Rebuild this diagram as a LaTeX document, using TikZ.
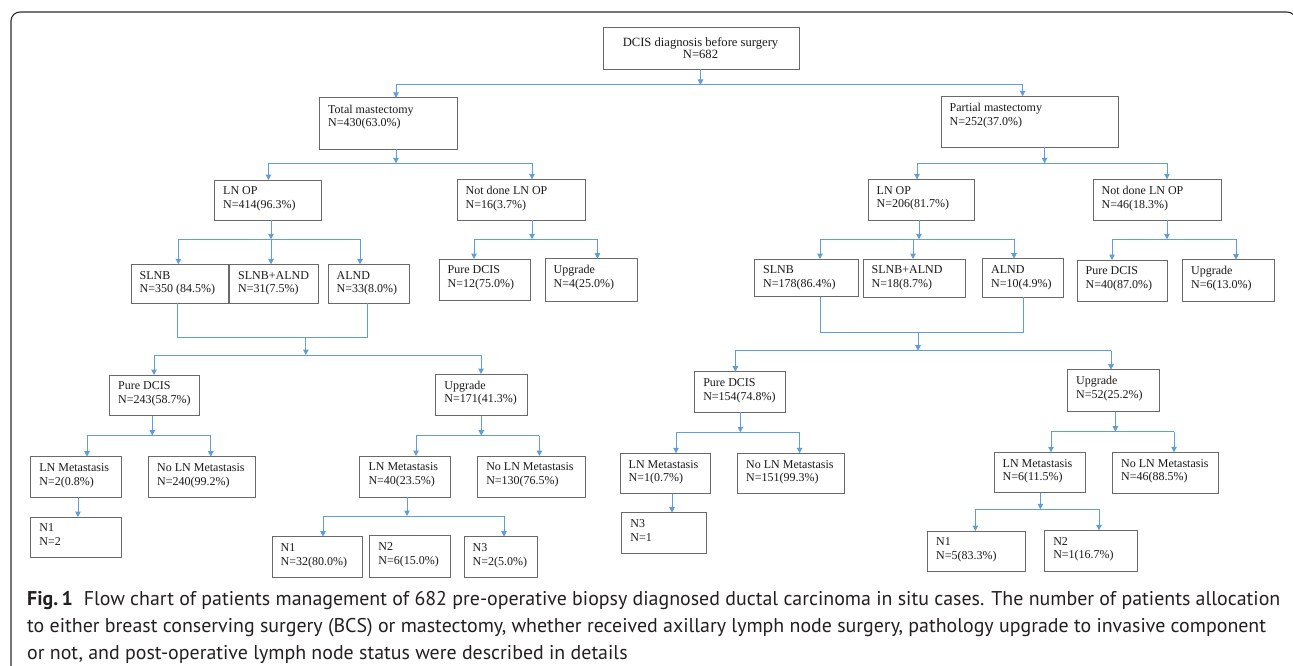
\documentclass[tikz,border=0pt]{standalone}
\usepackage{fontspec}
\setmainfont{Liberation Serif}
\newfontfamily\capfont{PT Sans}
\usetikzlibrary{arrows.meta}
\definecolor{conncol}{RGB}{96,158,215}
\definecolor{boxcol}{RGB}{105,105,105}
\definecolor{framecol}{RGB}{45,45,45}
\definecolor{txtcol}{RGB}{25,25,25}
\definecolor{capcol}{RGB}{35,31,32}
\tikzset{
  boxnode/.style={draw=boxcol, line width=1pt, rectangle, inner sep=0pt, outer sep=0pt},
  boxtext/.style={anchor=north west, inner sep=0pt, outer sep=0pt, align=left, text=txtcol,
    font=\fontsize{12}{13.6}\selectfont},
  conn/.style={draw=conncol, line width=1pt},
  arr/.style={conn, -{Triangle[length=5.5pt,width=5.5pt]}},
  captext/.style={anchor=base west, inner sep=0pt, text=capcol, font=\capfont\fontsize{19.9}{27}\selectfont},
  frameline/.style={draw=framecol, line width=1.1pt, rounded corners=9pt}
}
\newcommand{\bx}[6]{%
  \node[boxnode, minimum width={(#4-#2)*1pt}, minimum height={(#5-#3)*1pt}, anchor=north west] (#1) at (#2,#3) {};
  \node[boxtext] (#1t) at ([xshift=8.7pt,yshift=-6.8pt]#1.north west) {#6};
}
\begin{document}
\begin{tikzpicture}[x=1pt,y=-1pt]
\useasboundingbox (0,0) rectangle (1293,666);
\begin{scope}
  \clip (0,0) rectangle (1293,666);
  \draw[frameline] (11,12) rectangle (1296,700);
\end{scope}

% ---------- top ----------
\node[boxnode, minimum width=196pt, minimum height=41.8pt, anchor=north west] (dcis) at (603,27.5) {};
\node[boxtext, anchor=north, align=center, font=\fontsize{12.6}{12}\selectfont] (dcist) at (700.5,37.5) {DCIS diagnosis before surgery\\N=682};

\bx{tm}{319.5}{98}{457}{149.3}{Total mastectomy\\N=430(63.0\%)}
\bx{pm}{941}{96.3}{1118.4}{147.3}{Partial mastectomy\\N=252(37.0\%)}

% ---------- level 2 ----------
\bx{lnopL}{214.5}{180}{321.6}{220.3}{LN OP\\N=414(96.3\%)}
\bx{ndL}{457}{179.3}{585}{220.3}{Not done LN OP\\N=16(3.7\%)}
\bx{lnopR}{868}{179.3}{974}{220.3}{LN OP\\N=206(81.7\%)}
\bx{ndR}{1093}{179.3}{1221}{220.3}{Not done LN OP\\N=46(18.3\%)}

% ---------- level 3 ----------
\bx{slnbL}{131}{264.3}{228}{303}{SLNB\\N=350 (84.5\%)}
\bx{saL}{229.5}{264.3}{318}{303}{SLNB+ALND\\N=31(7.5\%)}
\bx{alndL}{328}{264.3}{409}{303}{ALND\\N=33(8.0\%)}
\bx{pdndL}{439}{259}{530}{300}{Pure DCIS\\N=12(75.0\%)}
\bx{upndL}{545}{258.7}{637}{301}{Upgrade\\N=4(25.0\%)}

\bx{slnbR}{754.5}{259}{858}{296.7}{SLNB\\N=178(86.4\%)}
\bx{saR}{863}{259}{965}{297}{SLNB+ALND\\N=18(8.7\%)}
\bx{alndR}{982.5}{258.7}{1063}{297}{ALND\\N=10(4.9\%)}
\bx{pdndR}{1077}{260}{1167.5}{301}{Pure DCIS\\N=40(87.0\%)}
\bx{upndR}{1182.5}{259.7}{1274.6}{301.3}{Upgrade\\N=6(13.0\%)}

% ---------- level 4 ----------
\bx{pdL}{109.5}{375}{199.6}{415.7}{Pure DCIS\\N=243(58.7\%)}
\bx{upL}{435.7}{374}{527}{415.7}{Upgrade\\N=171(41.3\%)}
\bx{pdR}{694.6}{371.7}{785.4}{412.3}{Pure DCIS\\N=154(74.8\%)}
\bx{upR}{1067.5}{369.7}{1159.6}{411.7}{Upgrade\\N=52(25.2\%)}

% ---------- level 5 ----------
\bx{lmL1}{30.7}{456.7}{121.6}{497.3}{LN Metastasis\\N=2(0.8\%)}
\bx{nlmL1}{148.5}{456.7}{255.6}{497.3}{No LN Metastasis\\N=240(99.2\%)}
\bx{lmL2}{359.8}{456}{450.6}{497}{LN Metastasis\\N=40(23.5\%)}
\bx{nlmL2}{477.6}{456}{585}{497}{No LN Metastasis\\N=130(76.5\%)}
\bx{lmR1}{620}{453.3}{710.7}{493.5}{LN Metastasis\\N=1(0.7\%)}
\bx{nlmR1}{737.5}{453.3}{844}{493.7}{No LN Metastasis\\N=151(99.3\%)}
\bx{lmR2}{994}{452.3}{1085.4}{492.7}{LN Metastasis\\N=6(11.5\%)}
\bx{nlmR2}{1112.5}{452.3}{1218.7}{493}{No LN Metastasis\\N=46(88.5\%)}

% ---------- level 6 ----------
\bx{n1L}{30.7}{517}{121.6}{557.7}{N1\\N=2}
\bx{n1L2}{272}{536.7}{362}{577.3}{N1\\N=32(80.0\%)}
\bx{n2L2}{369.7}{535.7}{450.6}{577}{N2\\N=6(15.0\%)}
\bx{n3L2}{464}{536.7}{537.8}{577}{N3\\N=2(5.0\%)}
\bx{n3R}{621.7}{512.7}{706}{553.3}{N3\\N=1}
\bx{n1R}{927.5}{531}{1025.4}{571.7}{N1\\N=5(83.3\%)}
\bx{n2R}{1044.6}{530.3}{1137}{571.7}{N2\\N=1(16.7\%)}

% ---------- connectors ----------
% DCIS split
\coordinate (j0) at (700.5,85);
\coordinate (j0l) at (396,85);
\coordinate (j0r) at (1022.6,85);
\draw[arr] (dcis.south -| j0) -- (j0);
\draw[conn] (j0l) -- (j0r);
\draw[arr] (j0l) -- (tm.north -| j0l);
\draw[arr] (j0r) -- (pm.north -| j0r);

% total mastectomy split
\coordinate (j1) at (396,163.3);
\coordinate (j1l) at (268.5,163.3);
\coordinate (j1r) at (532,163.3);
\draw[arr] (tm.south -| j1) -- (j1);
\draw[conn] (j1l) -- (j1r);
\draw[arr] (j1l) -- (lnopL.north -| j1l);
\draw[arr] (j1r) -- (ndL.north -| j1r);

% partial mastectomy split
\coordinate (j2) at (1044.6,163.3);
\coordinate (j2l) at (917,163.3);
\coordinate (j2r) at (1167,163.3);
\draw[arr] (pm.south -| j2) -- (j2);
\draw[conn] (j2l) -- (j2r);
\draw[arr] (j2l) -- (lnopR.north -| j2l);
\draw[arr] (j2r) -- (ndR.north -| j2r);

% LN OP left split
\coordinate (j3) at (271,239.3);
\coordinate (j3l) at (178.4,239.3);
\coordinate (j3r) at (360,239.3);
\draw[arr] (lnopL.south -| j3) -- (j3);
\draw[conn] (j3l) -- (j3r);
\draw[arr] (j3l) -- (slnbL.north -| j3l);
\draw[arr] (j3) -- (saL.north -| j3);
\draw[arr] (j3r) -- (alndL.north -| j3r);

% not done left split
\coordinate (j4) at (532,239.3);
\coordinate (j4l) at (474,239.3);
\coordinate (j4r) at (597.5,239.3);
\draw[arr] (ndL.south -| j4) -- (j4);
\draw[conn] (j4l) -- (j4r);
\draw[arr] (j4l) -- (pdndL.north -| j4l);
\draw[arr] (j4r) -- (upndL.north -| j4r);

% LN OP right split
\coordinate (j5) at (919,239.3);
\coordinate (j5l) at (820,239.3);
\coordinate (j5m) at (913,239.3);
\coordinate (j5r) at (1014,239.3);
\draw[arr] (lnopR.south -| j5) -- (j5);
\draw[conn] (j5l) -- (j5r);
\draw[arr] (j5l) -- (slnbR.north -| j5l);
\draw[arr] (j5m) -- (saR.north -| j5m);
\draw[arr] (j5r) -- (alndR.north -| j5r);

% not done right split
\coordinate (j6) at (1167,239.3);
\coordinate (j6l) at (1112,239.3);
\coordinate (j6r) at (1236,239.3);
\draw[arr] (ndR.south -| j6) -- (j6);
\draw[conn] (j6l) -- (j6r);
\draw[arr] (j6l) -- (pdndR.north -| j6l);
\draw[arr] (j6r) -- (upndR.north -| j6r);

% merge left
\coordinate (m1l) at (177.6,337.7);
\coordinate (m1r) at (367.6,337.7);
\coordinate (m1) at (305.8,337.7);
\draw[conn] (slnbL.south -| m1l) -- (m1l) -- (m1r) -- (alndL.south -| m1r);
\coordinate (j7) at (305.8,355);
\coordinate (j7l) at (154,355);
\coordinate (j7r) at (481,355);
\draw[arr] (m1) -- (j7);
\draw[conn] (j7l) -- (j7r);
\draw[arr] (j7l) -- (pdL.north -| j7l);
\draw[arr] (j7r) -- (upL.north -| j7r);

% merge right
\coordinate (m2l) at (820,332.3);
\coordinate (m2r) at (1023.7,332.3);
\coordinate (m2) at (918,332.3);
\draw[conn] (slnbR.south -| m2l) -- (m2l) -- (m2r) -- (alndR.south -| m2r);
\coordinate (j8) at (918,350.7);
\coordinate (j8l) at (735.4,350.7);
\coordinate (j8r) at (1111,350.7);
\draw[arr] (m2) -- (j8);
\draw[conn] (j8l) -- (j8r);
\draw[arr] (j8l) -- (pdR.north -| j8l);
\draw[arr] (j8r) -- (upR.north -| j8r);

% pure DCIS left split
\coordinate (j9) at (152.3,435.7);
\coordinate (j9l) at (87,435.7);
\coordinate (j9r) at (210.8,435.7);
\draw[arr] (pdL.south -| j9) -- (j9);
\draw[conn] (j9l) -- (j9r);
\draw[arr] (j9l) -- (lmL1.north -| j9l);
\draw[arr] (j9r) -- (nlmL1.north -| j9r);

% upgrade left split
\coordinate (j10) at (481.3,435.7);
\coordinate (j10l) at (416,435.7);
\coordinate (j10r) at (539.4,435.7);
\draw[arr] (upL.south -| j10) -- (j10);
\draw[conn] (j10l) -- (j10r);
\draw[arr] (j10l) -- (lmL2.north -| j10l);
\draw[arr] (j10r) -- (nlmL2.north -| j10r);

% pure DCIS right split
\coordinate (j11) at (740.4,432.3);
\coordinate (j11l) at (676,432.3);
\coordinate (j11r) at (799.6,432.3);
\draw[arr] (pdR.south -| j11) -- (j11);
\draw[conn] (j11l) -- (j11r);
\draw[arr] (j11l) -- (lmR1.north -| j11l);
\draw[arr] (j11r) -- (nlmR1.north -| j11r);

% upgrade right split
\coordinate (j12) at (1115.4,431.7);
\coordinate (j12l) at (1051,431.7);
\coordinate (j12r) at (1174,431.7);
\draw[arr] (upR.south -| j12) -- (j12);
\draw[conn] (j12l) -- (j12r);
\draw[arr] (j12l) -- (lmR2.north -| j12l);
\draw[arr] (j12r) -- (nlmR2.north -| j12r);

% LN metastasis -> N stages
\coordinate (k1) at (78,0);
\draw[arr] (lmL1.south -| k1) -- (n1L.north -| k1);
\coordinate (k2) at (672,0);
\draw[arr] (lmR1.south -| k2) -- (n3R.north -| k2);

\coordinate (j13) at (407,516);
\coordinate (j13l) at (323,516);
\coordinate (j13r) at (504,516);
\draw[arr] (lmL2.south -| j13) -- (j13);
\draw[conn] (j13l) -- (j13r);
\draw[arr] (j13l) -- (n1L2.north -| j13l);
\draw[arr] (j13r) -- (n3L2.north -| j13r);

\coordinate (j14) at (1040.4,509.3);
\coordinate (j14l) at (975.4,509.3);
\coordinate (j14r) at (1099,509.3);
\draw[arr] (lmR2.south -| j14) -- (j14);
\draw[conn] (j14l) -- (j14r);
\draw[arr] (j14l) -- (n1R.north -| j14l);
\draw[arr] (j14r) -- (n2R.north -| j14r);

% ---------- caption ----------
\node[captext] (cap1) at (27,605) {\textbf{Fig.\,1}\hspace{0.55em}Flow chart of patients management of 682 pre-operative biopsy diagnosed ductal carcinoma in situ cases. The number of patients allocation};
\node[captext] (cap2) at (27,632) {to either breast conserving surgery (BCS) or mastectomy, whether received axillary lymph node surgery, pathology upgrade to invasive component};
\node[captext] (cap3) at (27,659) {or not, and post-operative lymph node status were described in details};
\end{tikzpicture}
\end{document}
